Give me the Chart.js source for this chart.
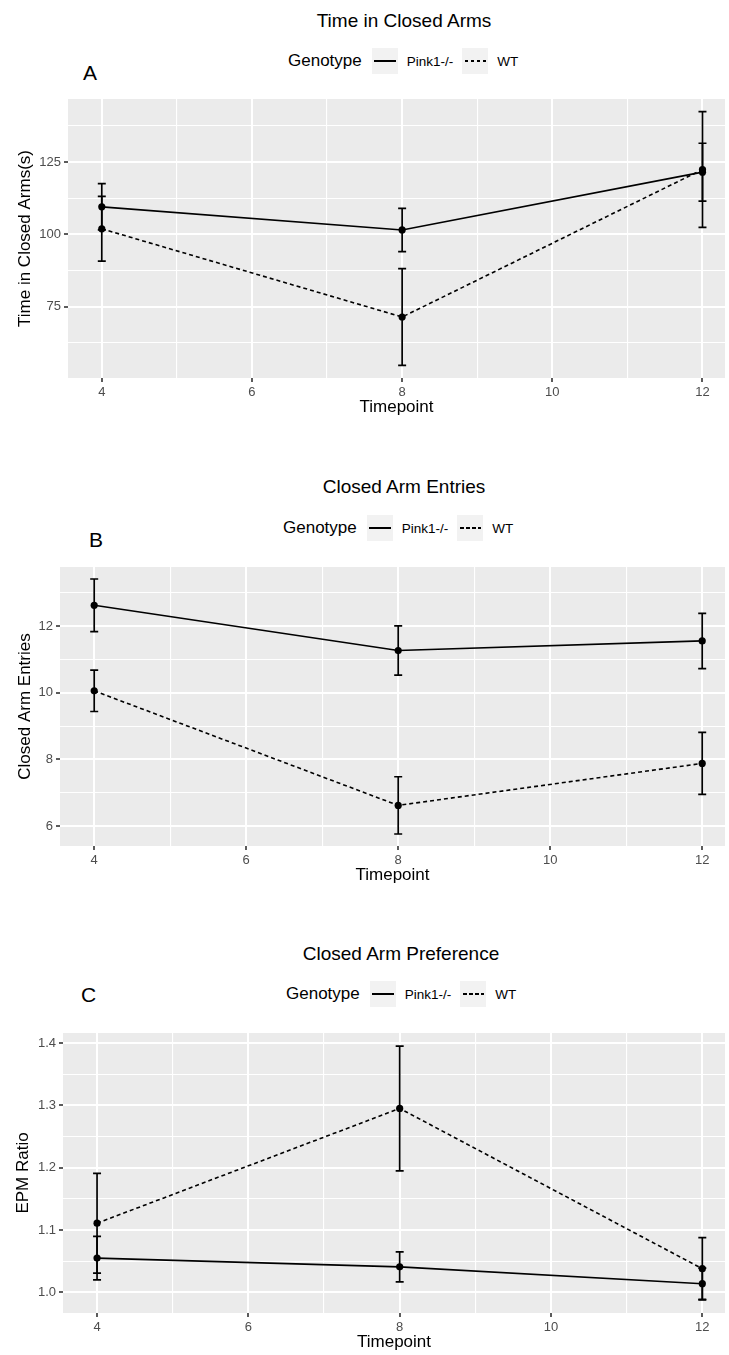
<!DOCTYPE html>
<html>
<head>
<meta charset="utf-8">
<script src="https://cdn.jsdelivr.net/npm/chart.js@4.4.1/dist/chart.umd.min.js"></script>
<style>
  body { margin: 0; background: #fff; font-family: "Liberation Sans", Arial, sans-serif; }
  #page { position: relative; width: 729px; height: 1355px; overflow: hidden; }
  canvas { position: absolute; left: 0; }
  .title { position: absolute; font-size: 19px; line-height: 1; color: #000; white-space: nowrap; transform: translate(-50%, -50%); }
  .letter { position: absolute; font-size: 21px; line-height: 1; color: #000; transform: translateY(-50%); }
  .legend { position: absolute; display: flex; align-items: center; height: 26px; transform: translateY(-50%); white-space: nowrap; }
  .legend .lt { font-size: 17px; margin-right: 10px; }
  .legend .lab { font-size: 13.5px; margin: 0 9px 0 9px; }
  .key { width: 26px; height: 26px; background: #f2f2f2; position: relative; }
  .key span { position: absolute; left: 2px; right: 2px; top: 12px; height: 1.6px; background: #000; }
  .key.dash span { left: 3px; right: 2px; background: repeating-linear-gradient(90deg, #000 0 3.5px, transparent 3.5px 6px); }
</style>
</head>
<body>
<div id="page">
  <div class="title" style="left:404px; top:19.5px">Time in Closed Arms</div>
  <div class="legend" style="left:288px; top:61px">
    <span class="lt">Genotype</span><div class="key"><span></span></div><span class="lab">Pink1-/-</span><div class="key dash"><span></span></div><span class="lab" style="margin-right:0">WT</span>
  </div>
  <div class="letter" style="left:83px; top:71.5px">A</div>
  <canvas id="chartA" width="729" height="419" style="top:0px"></canvas>

  <div class="title" style="left:404px; top:486px">Closed Arm Entries</div>
  <div class="legend" style="left:283px; top:528px">
    <span class="lt">Genotype</span><div class="key"><span></span></div><span class="lab">Pink1-/-</span><div class="key dash"><span></span></div><span class="lab" style="margin-right:0">WT</span>
  </div>
  <div class="letter" style="left:89px; top:538.5px">B</div>
  <canvas id="chartB" width="729" height="420" style="top:467px"></canvas>

  <div class="title" style="left:401px; top:953px">Closed Arm Preference</div>
  <div class="legend" style="left:286px; top:994px">
    <span class="lt">Genotype</span><div class="key"><span></span></div><span class="lab">Pink1-/-</span><div class="key dash"><span></span></div><span class="lab" style="margin-right:0">WT</span>
  </div>
  <div class="letter" style="left:81px; top:993.5px">C</div>
  <canvas id="chartC" width="729" height="421" style="top:933px"></canvas>
</div>
<script>
// timepoints shared by all three panels
const timepoints = [4, 8, 12];
const xMajor = [4, 6, 8, 10, 12];
const xMinor = [5, 7, 9, 11];

// A: time in closed arms (s)
const timePink1 = [109.5, 101.5, 121.5];
const timePink1Err = [8, 7.5, 10];
const timeWT = [101.9, 71.4, 122.4];
const timeWTErr = [11.2, 16.7, 20];
const timeMajor = [75, 100, 125];
const timeMinor = [62.5, 87.5, 112.5, 137.5];

// B: closed arm entries
const entriesPink1 = [12.63, 11.27, 11.56];
const entriesPink1Err = [0.79, 0.74, 0.83];
const entriesWT = [10.06, 6.62, 7.88];
const entriesWTErr = [0.62, 0.86, 0.93];
const entriesMajor = [6, 8, 10, 12];
const entriesMinor = [7, 9, 11, 13];

// C: EPM ratio
const ratioPink1 = [1.055, 1.041, 1.014];
const ratioPink1Err = [0.035, 0.024, 0.025];
const ratioWT = [1.111, 1.295, 1.038];
const ratioWTErr = [0.08, 0.1, 0.05];
const ratioMajor = [1.0, 1.1, 1.2, 1.3, 1.4];
const ratioMinor = [1.05, 1.15, 1.25, 1.35];

Chart.defaults.font.family = '"Liberation Sans", Arial, sans-serif';

const panelBg = {
  id: 'panelBg',
  beforeDraw(chart) {
    const { ctx, chartArea: a } = chart;
    ctx.save();
    ctx.fillStyle = '#ebebeb';
    ctx.fillRect(a.left, a.top, a.right - a.left, a.bottom - a.top);
    ctx.restore();
  }
};

const errorBars = {
  id: 'errorBars',
  afterDatasetsDraw(chart, args, opts) {
    const { ctx, scales: { x, y } } = chart;
    ctx.save();
    ctx.strokeStyle = '#000';
    ctx.lineWidth = 1.7;
    opts.errors.forEach((errs, di) => {
      chart.data.datasets[di].data.forEach((p, i) => {
        const px = x.getPixelForValue(p.x);
        const top = y.getPixelForValue(p.y + errs[i]);
        const bot = y.getPixelForValue(p.y - errs[i]);
        ctx.beginPath();
        ctx.moveTo(px, top); ctx.lineTo(px, bot);
        ctx.moveTo(px - 4, top); ctx.lineTo(px + 4, top);
        ctx.moveTo(px - 4, bot); ctx.lineTo(px + 4, bot);
        ctx.stroke();
      });
    });
    ctx.restore();
  }
};

function series(label, ys, dash) {
  return {
    label: label,
    data: timepoints.map((t, i) => ({ x: t, y: ys[i] })),
    borderColor: '#000',
    backgroundColor: '#000',
    borderWidth: 1.6,
    borderDash: dash,
    pointRadius: 3.6,
    pointBorderWidth: 0,
    pointBackgroundColor: '#000',
    tension: 0
  };
}

function axisGrid(major) {
  return {
    color: '#fff',
    lineWidth: c => (c.tick && major.includes(c.tick.value)) ? 2 : 1.1,
    tickColor: c => (c.tick && major.includes(c.tick.value)) ? '#333' : 'rgba(0,0,0,0)',
    tickWidth: 1.6,
    tickLength: 4
  };
}

function makePanel(id, o) {
  new Chart(document.getElementById(id), {
    type: 'line',
    data: {
      datasets: [series('Pink1-/-', o.pink, []), series('WT', o.wt, [4, 3])]
    },
    options: {
      responsive: false,
      animation: false,
      layout: { padding: { top: o.padTop, left: 0, right: 0, bottom: 0 } },
      plugins: {
        legend: { display: false },
        tooltip: { enabled: false },
        errorBars: { errors: [o.pinkErr, o.wtErr] }
      },
      scales: {
        x: {
          type: 'linear',
          min: 3.55,
          max: 12.3,
          afterBuildTicks: ax => { ax.ticks = xMajor.concat(xMinor).map(v => ({ value: v })); },
          afterFit: ax => { ax.height = 41; },
          grid: axisGrid(xMajor),
          border: { display: false },
          ticks: {
            color: '#4d4d4d',
            font: { size: 13 },
            padding: 3,
            maxRotation: 0,
            autoSkip: false,
            callback: v => xMajor.includes(v) ? String(v) : ''
          },
          title: { display: true, text: 'Timepoint', color: '#000', font: { size: 17 }, padding: { top: 0, bottom: 1 } }
        },
        y: {
          type: 'linear',
          min: o.yMin,
          max: o.yMax,
          afterBuildTicks: ax => { ax.ticks = o.yMajor.concat(o.yMinor).map(v => ({ value: v })); },
          afterFit: ax => { ax.width = o.yWidth; },
          grid: axisGrid(o.yMajor),
          border: { display: false },
          ticks: {
            color: '#4d4d4d',
            font: { size: 13 },
            padding: 3,
            autoSkip: false,
            callback: v => o.yMajor.includes(v) ? o.fmt(v) : ''
          },
          title: { display: true, text: o.yTitle, color: '#000', font: { size: 17 }, padding: { top: o.yTitlePad, bottom: 0 } }
        }
      }
    },
    plugins: [panelBg, errorBars]
  });
}

makePanel('chartA', {
  pink: timePink1, pinkErr: timePink1Err, wt: timeWT, wtErr: timeWTErr,
  yMin: 50.3, yMax: 146.8, yMajor: timeMajor, yMinor: timeMinor,
  yTitle: 'Time in Closed Arms(s)', yWidth: 68, yTitlePad: 15, padTop: 99,
  fmt: v => String(v)
});

makePanel('chartB', {
  pink: entriesPink1, pinkErr: entriesPink1Err, wt: entriesWT, wtErr: entriesWTErr,
  yMin: 5.4, yMax: 13.78, yMajor: entriesMajor, yMinor: entriesMinor,
  yTitle: 'Closed Arm Entries', yWidth: 60, yTitlePad: 15, padTop: 100,
  fmt: v => String(v)
});

makePanel('chartC', {
  pink: ratioPink1, pinkErr: ratioPink1Err, wt: ratioWT, wtErr: ratioWTErr,
  yMin: 0.967, yMax: 1.416, yMajor: ratioMajor, yMinor: ratioMinor,
  yTitle: 'EPM Ratio', yWidth: 63, yTitlePad: 13, padTop: 100,
  fmt: v => v.toFixed(1)
});
</script>
</body>
</html>
